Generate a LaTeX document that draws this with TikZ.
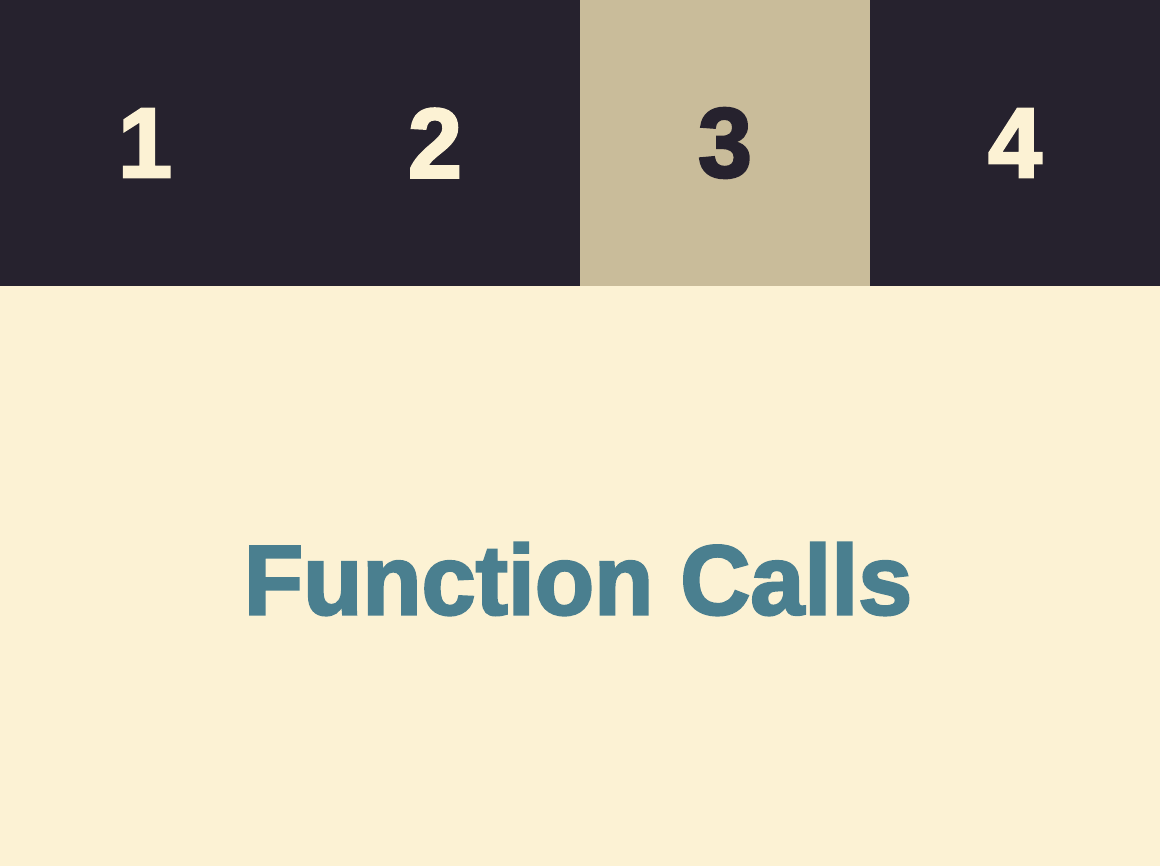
\documentclass[tikz,border=0pt]{standalone}
\usepackage{fontspec}
\setmainfont{Liberation Sans}[FakeStretch=0.98, FakeBold=2.5]
\usepackage{tikz}
\usetikzlibrary{positioning}

\definecolor{ink}{HTML}{26222E}
\definecolor{sand}{HTML}{C9BC9A}
\definecolor{paper}{HTML}{FCF2D4}
\definecolor{sea}{HTML}{4A7F8F}

\tikzset{
    cell/.style={fill=ink, text=paper, minimum width=290pt, minimum height=286pt,
        inner sep=0pt, outer sep=0pt, font=\fontsize{99}{99}\selectfont\bfseries},
    current/.style={cell, fill=sand, text=ink}
}

\begin{document}
\begin{tikzpicture}[x=1pt, y=-1pt]
    \fill[paper] (0,0) rectangle (1160,866);
    \useasboundingbox (0,0) rectangle (1160,866);

    \node[cell, anchor=north west] (1) at (0,0) {1};
    \node[cell, right=0pt of 1] (2) {2};
    \node[current, right=0pt of 2] (3) {3};
    \node[cell, right=0pt of 3] (4) {4};

    \node[text=sea, font=\fontsize{99}{99}\selectfont\bfseries] (title) at (578,579) {Function Calls};
\end{tikzpicture}
\end{document}
